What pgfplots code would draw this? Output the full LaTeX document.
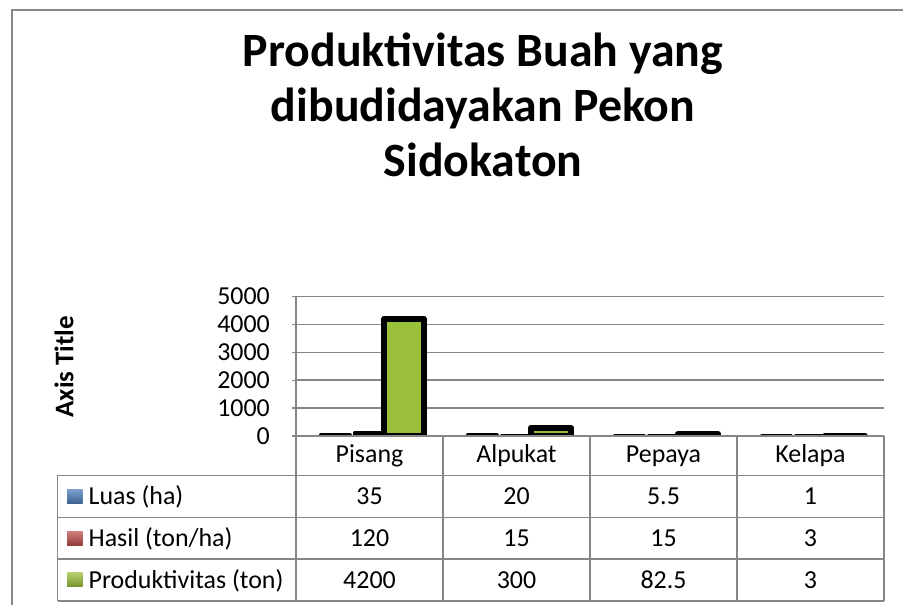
\documentclass[border=0pt]{standalone}
\usepackage{pgfplots}
\pgfplotsset{compat=1.18}
\usepackage{fontspec}
\setmainfont{Carlito}
\definecolor{lgray}{RGB}{134,134,134}
\definecolor{frgray}{RGB}{136,136,136}
\definecolor{sblue}{RGB}{79,129,189}
\definecolor{sred}{RGB}{192,80,77}
\definecolor{sgreen}{RGB}{155,192,60}
\begin{document}
\begin{tikzpicture}[x=1bp,y=1bp]
\useasboundingbox (0,0) rectangle (903,605);
\fill[white] (0,0) rectangle (903,605);
% chart frame
\draw[frgray, line width=2bp] (903,595) -- (11.5,595) -- (11.5,0);
% title
\begin{scope}[every node/.style={anchor=base, inner sep=0pt, font=\fontsize{48}{56}\selectfont\bfseries}]
\node at (483,538) {Produktivitas Buah yang};
\node at (483,483) {dibudidayakan Pekon};
\node at (483,428.4) {Sidokaton};
\end{scope}
% axis title
\node[rotate=90, anchor=base, inner sep=0pt, font=\fontsize{27}{30}\selectfont\bfseries] at (73.3,238.3) {Axis Title};

\begin{axis}[
  at={(296bp,169bp)}, anchor=south west,
  scale only axis, width=588bp, height=139.5bp,
  xmin=-0.5, xmax=3.5, ymin=0, ymax=5000,
  xtick=\empty,
  ytick={0,1000,2000,3000,4000,5000},
  ytick pos=left,
  tick align=outside,
  major tick length=4bp,
  every tick/.style={lgray, line width=1.2bp},
  ymajorgrids,
  grid style={lgray, line width=1.5bp},
  axis line style={draw=none},
  /pgf/number format/assume math mode=true,
  /pgf/number format/1000 sep={},
  yticklabel style={font=\fontsize{26}{30}\selectfont, inner sep=0pt, anchor=east, xshift=-22bp},
  ybar,
  clip=true,
]
\addplot[fill=sblue, draw=black, line width=4bp, line join=round, bar width=29bp, bar shift=-34.5bp]
  coordinates {(0,35) (1,20) (2,5.5) (3,1)};
\addplot[fill=sred, draw=black, line width=4bp, line join=round, bar width=29bp, bar shift=0bp]
  coordinates {(0,120) (1,15) (2,15) (3,3)};
\addplot[fill=sgreen, draw=black, line width=6bp, line join=round, bar width=40bp, bar shift=34.5bp]
  coordinates {(0,4200) (1,300) (2,82.5) (3,3)};
\end{axis}

% axis lines and data table grid
\begin{scope}[lgray, line width=1.6bp]
\draw (296,308.5) -- (296,4);
\draw (296,169) -- (884,169);
\draw (57.5,129.5) -- (884,129.5);
\draw (57.5,87.5) -- (884,87.5);
\draw (57.5,45.7) -- (884,45.7);
\draw (57.5,4) -- (884,4);
\draw (57.5,129.5) -- (57.5,4);
\draw (443,169) -- (443,4);
\draw (590,169) -- (590,4);
\draw (737,169) -- (737,4);
\draw (884,169) -- (884,4);
\end{scope}

\begin{scope}[every node/.style={anchor=base, inner sep=0pt, font=\fontsize{26}{30}\selectfont}]
\node at (369.5,142.3) {Pisang};
\node at (516.5,142.3) {Alpukat};
\node at (663.5,142.3) {Pepaya};
\node at (810.5,142.3) {Kelapa};
\node at (369.5,100) {35};
\node at (516.5,100) {20};
\node at (663.5,100) {5.5};
\node at (810.5,100) {1};
\node at (369.5,58) {120};
\node at (516.5,58) {15};
\node at (663.5,58) {15};
\node at (810.5,58) {3};
\node at (369.5,16.3) {4200};
\node at (516.5,16.3) {300};
\node at (663.5,16.3) {82.5};
\node at (810.5,16.3) {3};
\node[anchor=base west] at (88.5,100) {Luas (ha)};
\node[anchor=base west] at (88.5,58) {Hasil (ton/ha)};
\node[anchor=base west] at (88.5,16.3) {Produktivitas (ton)};
\end{scope}
% legend keys
\shade[top color=sblue!75!white, bottom color=sblue!75!black] (67,101.5) rectangle (82.5,115.5);
\shade[top color=sred!75!white, bottom color=sred!75!black] (67,59.5) rectangle (82.5,73.5);
\shade[top color=sgreen!75!white, bottom color=sgreen!75!black] (67,18) rectangle (82.5,32);
\end{tikzpicture}
\end{document}
